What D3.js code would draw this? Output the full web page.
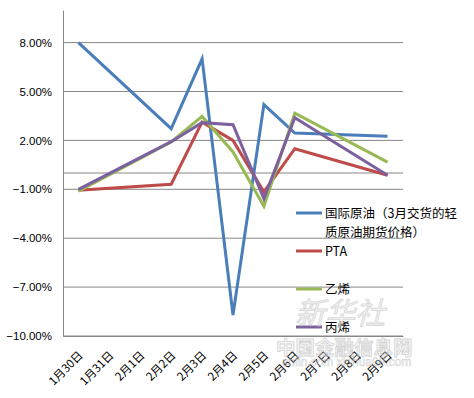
<!DOCTYPE html>
<html>
<head>
<meta charset="utf-8">
<script src="https://cdn.jsdelivr.net/npm/d3@7"></script>
<style>
  body { margin: 0; background: #fff; }
  svg { display: block; }
  text { font-family: "Noto Sans CJK SC", "Liberation Sans", sans-serif; }
</style>
</head>
<body>
<svg id="chart" width="474" height="398"></svg>
<script>
const dates = ['1月30日', '1月31日', '2月1日', '2月2日', '2月3日', '2月4日', '2月5日', '2月6日', '2月7日', '2月8日', '2月9日']
const crudeOil = [8.0, null, null, 2.72, 7.0, -8.71, 4.2, 2.45, null, null, 2.25]
const pta = [-1.06, null, null, -0.69, 3.12, 2.0, -1.16, 1.49, null, null, -0.14]
const ethylene = [-1.12, null, null, 1.9, 3.47, 1.29, -2.04, 3.67, null, null, 0.67]
const propylene = [-1.0, null, null, 1.92, 3.09, 2.96, -1.57, 3.39, null, null, -0.14]
const yTicks = [-10, -7, -4, -1, 2, 5, 8]

const seriesNames = ['国际原油（3月交货的轻|质原油期货价格）', 'PTA', '乙烯', '丙烯']
const colors = ['#4a7ebb', '#be4b48', '#98b954', '#7d60a0']
const seriesValues = [crudeOil, pta, ethylene, propylene]

const margin = { left: 63, top: 10, right: 71, bottom: 62 }
const size = { width: 474, height: 398 }
const w = size.width - margin.left - margin.right
const h = size.height - margin.top - margin.bottom

const svg = d3.select('#chart')
const g = svg.append('g').attr('transform', `translate(${margin.left},${margin.top})`)

const x = d3.scaleBand().domain(dates).range([0, w])
const y = d3.scaleLinear().domain([-10, 10]).range([h, 0])

// gridlines
g.selectAll('.grid')
    .data(yTicks)
    .enter()
        .append('line')
        .attr('x1', 0)
        .attr('x2', w)
        .attr('y1', d => y(d))
        .attr('y2', d => y(d))
        .style('stroke', '#878787')
        .style('stroke-width', 1)

// zero line (category axis)
g.append('line')
    .attr('x1', 0).attr('x2', w)
    .attr('y1', y(0)).attr('y2', y(0))
    .style('stroke', '#878787')

const yAxis = g.append('g')
    .call(d3.axisLeft(y).tickValues(yTicks).tickSize(0).tickPadding(11).tickFormat(d => d3.format('.2f')(d) + '%'))
yAxis.select('.domain').style('stroke', '#878787')
yAxis.selectAll('text')
    .style('font-family', '"Liberation Sans", sans-serif')
    .style('font-size', '11.5px')
    .style('fill', '#000')

const xAxis = g.append('g')
    .attr('transform', `translate(0,${h})`)
    .call(d3.axisBottom(x).tickSize(0))
xAxis.select('.domain').style('stroke', '#878787')
xAxis.selectAll('text')
    .style('font-size', '11.5px')
    .style('fill', '#000')
    .attr('text-anchor', 'end')
    .attr('dy', 0)
    .attr('transform', 'translate(3,18) rotate(-45)')

// lines
const line = d3.line()
    .defined(d => d.value !== null)
    .x(d => x(d.date) + x.bandwidth() / 2)
    .y(d => y(d.value))

seriesValues.forEach((vals, i) => {
    const pts = dates.map((d, j) => ({ date: d, value: vals[j] })).filter(d => d.value !== null)
    g.append('path')
        .attr('d', line(pts))
        .style('fill', 'none')
        .style('stroke', colors[i])
        .style('stroke-width', 3)
        .style('stroke-linejoin', 'miter')
})

// legend
const legendY = [213, 251, 289, 327]
const legend = svg.append('g')
seriesNames.forEach((name, i) => {
    legend.append('line')
        .attr('x1', 296).attr('x2', 322)
        .attr('y1', legendY[i]).attr('y2', legendY[i])
        .style('stroke', colors[i])
        .style('stroke-width', 3)
    name.split('|').forEach((part, k) => {
        legend.append('text')
            .attr('x', 325)
            .attr('y', legendY[i] + 5 + k * 19)
            .style('font-size', '12.5px')
            .style('fill', '#000')
            .text(part)
    })
})

// watermark
const wm = svg.append('g').style('opacity', 0.55)
wm.append('text')
    .attr('x', 295).attr('y', 324)
    .style('font-size', '30px')
    .style('font-style', 'italic')
    .style('fill', '#e4e4e4')
    .style('stroke', '#b8b8b8')
    .style('stroke-width', 0.8)
    .text('新华社')
wm.append('text')
    .attr('x', 276).attr('y', 355)
    .style('font-size', '19.5px')
    .style('font-weight', 'bold')
    .style('fill', '#eeeeee')
    .style('stroke', '#b0b0b0')
    .style('stroke-width', 0.8)
    .text('中国金融信息网')
wm.append('text')
    .attr('x', 282).attr('y', 366)
    .style('font-size', '12px')
    .style('font-family', '"Liberation Sans", sans-serif')
    .style('fill', '#eeeeee')
    .style('stroke', '#b0b0b0')
    .style('stroke-width', 0.5)
    .text('cnfin.com    xinhua08.com')
</script>
</body>
</html>
